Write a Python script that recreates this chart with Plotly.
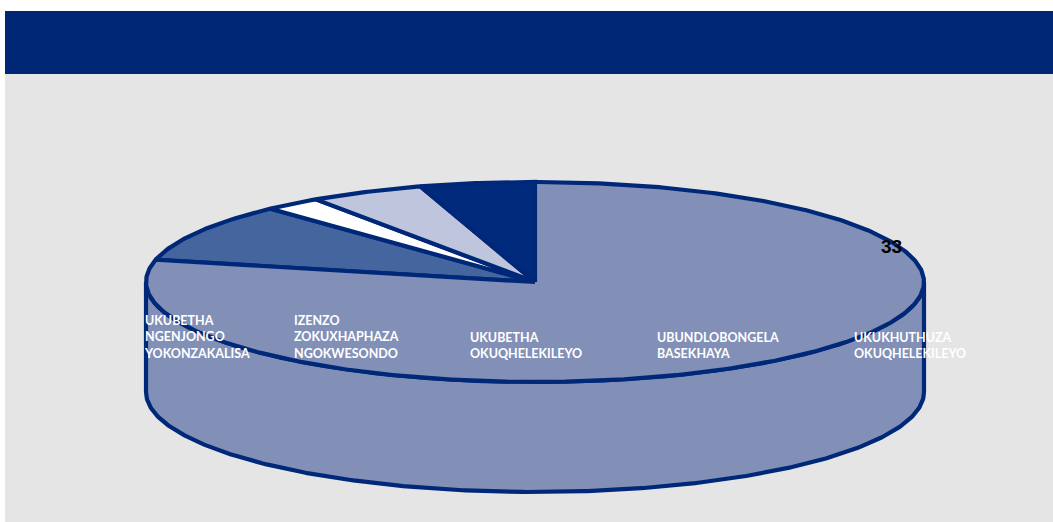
import numpy as np
import plotly.graph_objects as go

# Slices clockwise from 12 o'clock
categories = [
    "UKUKHUTHUZA<br>OKUQHELEKILEYO",
    "UKUBETHA<br>NGENJONGO<br>YOKONZAKALISA",
    "IZENZO<br>ZOKUXHAPHAZA<br>NGOKWESONDO",
    "UKUBETHA<br>OKUQHELEKILEYO",
    "UBUNDLOBONGELA<br>BASEKHAYA",
]
values = [33, 4, 1, 2, 2]
value_labels = ["33", "", "", "", ""]

colors = ["#8290B8", "#44659E", "#FFFFFF", "#BFC5DC", "#002A7C"]
label_x = [854, 144, 294, 470, 657]
NAVY = "#002878"
CX, CY, RX, RY, DEPTH = 535, 282, 389, 100, 110


def rim(a0, a1, dy=0):
    t = np.radians(np.linspace(a0, a1, max(int(abs(a1 - a0)) * 2, 2)))
    return CX + RX * np.sin(t), CY + dy - RY * np.cos(t)


fig = go.Figure()

# Side wall (front half of the cylinder)
x1, y1 = rim(90, 270)
x2, y2 = rim(270, 90, DEPTH)
fig.add_trace(go.Scatter(
    x=np.r_[x1, x2, x1[0]], y=np.r_[y1, y2, y1[0]], mode="lines", fill="toself",
    fillcolor=colors[0], line=dict(color=NAVY, width=4.2), hoverinfo="skip", showlegend=False))

# Top face slices, angles derived from the values
edges = np.r_[0, np.cumsum(values)] / sum(values) * 360
order = [1, 2, 3, 4, 0]
for i in order:
    xs, ys = rim(edges[i], edges[i + 1])
    fig.add_trace(go.Scatter(
        x=np.r_[CX, xs, CX], y=np.r_[CY, ys, CY], mode="lines", fill="toself",
        fillcolor=colors[i], line=dict(color=NAVY, width=4.2), name=categories[i].replace("<br>", " "),
        hoverinfo="name+text", text=[values[i]] * (len(xs) + 2), showlegend=False))

shapes = [
    dict(type="rect", xref="x", yref="y", x0=5, x1=1053, y0=74, y1=522, fillcolor="#E5E5E5",
         line_width=0, layer="below"),
    dict(type="rect", xref="x", yref="y", x0=5, x1=1053, y0=11, y1=74, fillcolor="#002776",
         line_width=0, layer="below"),
]

annotations = []
for cat, lx in zip(categories, label_x):
    annotations.append(dict(
        x=lx, y=363, xref="x", yref="y", text=cat, showarrow=False, xanchor="left", yanchor="bottom",
        align="left", xshift=-2, yshift=0,
        font=dict(family="Lato, sans-serif", size=12.5, color="#FFFFFF", weight="bold")))
annotations.append(dict(
    x=891, y=246, xref="x", yref="y", text=value_labels[0], showarrow=False,
    font=dict(family="Liberation Sans, Arial, sans-serif", size=19, color="#000000", weight="bold")))

fig.update_layout(
    width=1053, height=522, margin=dict(l=0, r=0, t=0, b=0),
    paper_bgcolor="#FFFFFF", plot_bgcolor="rgba(0,0,0,0)",
    xaxis=dict(range=[0, 1053], visible=False, fixedrange=True),
    yaxis=dict(range=[522, 0], visible=False, fixedrange=True),
    shapes=shapes, annotations=annotations,
)

fig.write_html("out.html", config={"displayModeBar": False},
               post_script="document.body.style.margin='0';document.body.style.overflow='hidden';")
